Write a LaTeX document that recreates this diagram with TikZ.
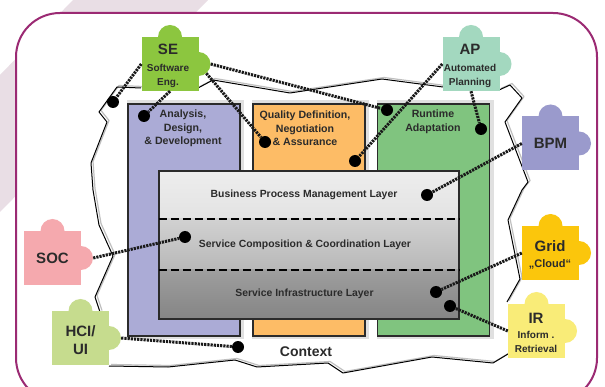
\documentclass[tikz,border=0pt]{standalone}
\usepackage{fontspec}
\setmainfont{Liberation Sans}
\usetikzlibrary{positioning}
\definecolor{framec}{HTML}{9B2A73}
\definecolor{bandc}{HTML}{E9DEE5}
\definecolor{sec}{HTML}{8CC63F}
\definecolor{apc}{HTML}{A3D8BF}
\definecolor{bpmc}{HTML}{9A9ACC}
\definecolor{socc}{HTML}{F5A9AE}
\definecolor{hcic}{HTML}{C6DC8E}
\definecolor{gridc}{HTML}{FBC60C}
\definecolor{irc}{HTML}{F9EC78}
\definecolor{adc}{HTML}{ABABD6}
\definecolor{qac}{HTML}{FDBC66}
\definecolor{rac}{HTML}{80C47F}
\definecolor{inkc}{HTML}{2B2B2B}
\newcommand{\bigname}[1]{{\fontsize{15}{17}\selectfont\bfseries #1}}
\newcommand{\smallname}[1]{{\fontsize{10}{14}\selectfont\bfseries #1}}
\tikzset{
  piece/.style={rectangle, inner sep=0pt, minimum width=57pt, minimum height=54pt},
  piecetext/.style={align=center, text=inkc, inner sep=0pt, font=\fontsize{10}{14}\selectfont},
  knob/.style={circle, inner sep=0pt, minimum size=24pt},
  column/.style={rectangle, draw=inkc, line width=1.2pt, inner sep=0pt, minimum width=112pt, minimum height=232pt},
  columntext/.style={align=center, text=inkc, font=\fontsize{10.6}{13.5}\selectfont\bfseries},
  layer/.style={rectangle, inner sep=0pt, minimum width=300pt},
  layertext/.style={text=inkc, font=\fontsize{10.4}{12}\selectfont\bfseries},
  spot/.style={circle, fill=black, inner sep=0pt, minimum size=12pt},
  link/.style={line width=3pt, dash pattern=on 2.2pt off 1pt, black!90},
  context/.style={draw=black, line width=1pt, line join=bevel}
}
\begin{document}
\begin{tikzpicture}[x=1pt, y=-1pt]
  \clip (0,0) rectangle (605,387);
  \fill[white] (0,0) rectangle (605,387);
  \fill[bandc] (73,0) -- (208,0) -- (0,212) -- (0,75) -- cycle; % diagonal band behind the frame
  \draw[framec, line width=2pt, fill=white, rounded corners=44pt] (16,13) rectangle (597,402);

  % irregular context outline, grey copy first
  \foreach \shiftx/\shifty/\col/\wid in {2/1.5/black!25/1.2pt, 0/0/black/1pt} {
    \draw[context, draw=\col, line width=\wid, xshift=\shiftx, yshift=\shifty]
      (141,88) -- (117,87) -- (99,112) -- (107,122) -- (91,163) -- (93,190) -- (99,225) -- (113,256) -- (95,297) -- (100,312)
      (109,366) -- (168,367) -- (235,360) -- (257,367) -- (328,363) -- (343,373) -- (432,357) -- (493,363) -- (508,354)
      (507,302) -- (520,279) -- (508,220) -- (522,190) -- (528,182) -- (505,122) -- (522,98) -- (510,85) -- (499,90)
      (443,87) -- (382,79) -- (290,93) -- (213,80) -- (198,88);
  }

  % three columns
  \foreach \name/\cx/\tx/\col/\txt/\ty in {ad/184/183/adc/{Analysis,\\Design,\\\& Development}/128.5,
                                   qa/309/305/qac/{Quality Definition,\\Negotiation\\\& Assurance}/128.5,
                                   ra/433.5/433/rac/{Runtime\\Adaptation}/122} {
    \fill[black!12] ({\cx-57},100) rectangle ({\cx+60},339);
    \node[column, fill=\col] (\name) at (\cx,220) {};
    \node[columntext] (\name text) at (\tx,\ty) {\txt};
  }

  \node[layer, minimum height=48pt, top color=black!7, bottom color=black!11] (bpl) at (309,195) {};
  \node[layer, minimum height=51pt, top color=black!18, bottom color=black!28] (scl) at (309,244.5) {};
  \node[layer, minimum height=49pt, top color=black!38, bottom color=black!48] (sil) at (309,294.5) {};
  \draw[inkc, line width=1.6pt] (bpl.north west) rectangle (sil.south east);
  \draw[black, line width=1.5pt, dash pattern=on 8pt off 4pt] (bpl.south west) -- (bpl.south east);
  \draw[black, line width=1.5pt, dash pattern=on 8pt off 4pt] (scl.south west) -- (scl.south east);
  \node[layertext] (bpltext) at (304,195) {Business Process Management Layer};
  \node[layertext] (scltext) at (305,245) {Service Composition \& Coordination Layer};
  \node[layertext] (siltext) at (304.5,294) {Service Infrastructure Layer};

  \node[text=inkc, font=\fontsize{14}{16}\selectfont\bfseries] (ctx) at (306,352) {Context};

  % puzzle pieces, knob on top and on the right
  \foreach \name/\cx/\cy/\col/\tx/\ty/\txt in {se/170/64/sec/168/66/{\bigname{SE}\\[3pt]\smallname{Software}\\\smallname{Eng.}},
                                     ap/471/64/apc/470/66/{\bigname{AP}\\[3pt]\smallname{Automated}\\\smallname{Planning}},
                                     bpm/550.5/143.5/bpmc/550.5/143.5/{\bigname{BPM}},
                                     soc/52.5/258/socc/52.5/258/{\bigname{SOC}},
                                     hci/80.5/338/hcic/80.5/340/{\bigname{HCI/}\\[4pt]\bigname{UI}},
                                     grid/550.5/253/gridc/550/255/{\bigname{Grid}\\[2pt]{\fontsize{11}{14}\selectfont\bfseries „Cloud“}},
                                     ir/536.5/331/irc/536/333/{\bigname{IR}\\[1pt]\smallname{Inform .}\\\smallname{Retrieval}}} {
    \node[knob, fill=\col] (\name top) at (\cx,\cy-27) {};
    \node[knob, fill=\col] (\name right) at (\cx+28.5,\cy) {};
    \node[piece, fill=\col] (\name) at (\cx,\cy) {};
    \node[piecetext] (\name text) at (\tx,\ty) {\txt};
  }

  % end points of the dotted links
  \foreach \name/\cx/\cy in {spa/113/102, spb/144/116, spc/265/142, spd/387/110, spe/355/161, spf/481/129,
                            spg/427/195, sph/185/237, spi/238/347, spj/436/292, spk/450/306} {
    \node[spot] (\name) at (\cx,\cy) {};
  }

  \draw[link] (se.west) -- (spa);
  \draw[link] (se.south) -- (spb);
  \draw[link] (seright.-50) -- (spc);
  \draw[link] (seright.east) -- (spd);
  \draw[link] (ap.west) -- (spe);
  \draw[link] (ap.south) -- (spf);
  \draw[link] (bpm.west) -- (spg);
  \draw[link] (grid.west) -- (spj);
  \draw[link] (ir.west) -- (spk);
  \draw[link] (socright.east) -- (sph);
  \draw[link] (hciright.east) -- (spi);
\end{tikzpicture}
\end{document}
